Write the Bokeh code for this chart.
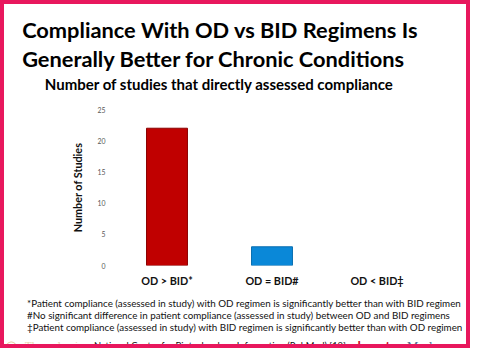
from bokeh.plotting import figure
from bokeh.models import Range1d, FactorRange, Title, FixedTicker, InlineStyleSheet
from bokeh.embed import file_html
from bokeh.resources import INLINE

# ---- data ----
categories = ["OD > BID*", "OD = BID#", "OD < BID\u2021"]
studies = [22, 3, 0]
bar_colors = ["#C00000", "#0A88D8"]
bar_lines = ["#8B0000", "#0A6FB0"]
y_ticks = [0, 5, 10, 15, 20, 25]

title_lines = ["Compliance With OD vs BID Regimens Is",
               "Generally Better for Chronic Conditions"]
subtitle = "Number of studies that directly assessed compliance"
y_label = "Number of Studies"
footnotes = [
    "*Patient compliance (assessed in study) with OD regimen is significantly better than with BID regimen",
    "#No significant difference in patient compliance (assessed in study) between OD and BID regimens",
    "\u2021Patient compliance (assessed in study) with BID regimen is significantly better than with OD regimen",
]
source = "National Center for Biotechnology Information (PubMed).[13]"
# footer pieces: text, left x (reference px), colour, font, size, bold
footer = [("\u25CE", 5, "#E3C48F", "DejaVu Sans", 13, False),
          ("Thrombosis", 25, "#E9D3AE", "DejaVu Serif", 9.8, False),
          (source, 95, "#111111", "Lato", 9.4, False),
          ("heart", 363, "#D0102A", "Lato", 14, True),
          (".org", 400, "#D0102A", "Lato", 6.8, False),
          ("Medscape", 413, "#4E6A8E", "DejaVu Serif", 11.5, False)]

FONT = "Lato"
PINK = "#E8175D"
SX = 478 / 486          # reference -> page scale (horizontal)
FRAME_LEFT = 114        # page x of the plot frame's left edge (4px border + 110)

p = figure(width=470, height=348, output_backend="svg", toolbar_location=None,
           x_range=FactorRange(*categories, range_padding=0),
           y_range=Range1d(0, 25),
           min_border_left=110, min_border_right=45,
           min_border_top=105, min_border_bottom=87)
p.outline_line_color = None
p.grid.visible = False
p.stylesheets = [InlineStyleSheet(css=f":host {{ border: 4px solid {PINK}; }}")]

p.vbar(x=categories[:2], top=studies[:2], width=0.39,
       fill_color=bar_colors, line_color=bar_lines, line_width=1)

# axes
p.yaxis.ticker = FixedTicker(ticks=y_ticks)
p.yaxis.axis_line_color = None
p.yaxis.major_tick_line_color = None
p.yaxis.major_tick_in = 0
p.yaxis.major_tick_out = 0
p.yaxis.minor_tick_line_color = None
p.yaxis.major_label_text_font = FONT
p.yaxis.major_label_text_font_size = "6.9px"
p.yaxis.major_label_text_color = "#595959"
p.yaxis.major_label_standoff = 9
p.yaxis.axis_label = y_label
p.yaxis.axis_label_text_font = FONT
p.yaxis.axis_label_text_font_style = "bold"
p.yaxis.axis_label_text_font_size = "10.8px"
p.yaxis.axis_label_text_color = "#111111"
p.yaxis.axis_label_standoff = 11

p.xaxis.axis_line_color = None
p.xaxis.major_tick_line_color = None
p.xaxis.major_tick_in = 0
p.xaxis.major_tick_out = 0
p.xaxis.major_label_text_font = FONT
p.xaxis.major_label_text_font_style = "bold"
p.xaxis.major_label_text_font_size = "10.8px"
p.xaxis.major_label_text_color = "#111111"
p.xaxis.major_label_standoff = 8


def title(text, X, size, where, bold=False, color="black", standoff=0,
          font=FONT, valign="bottom"):
    p.add_layout(Title(text=text, align="left", offset=X * SX - FRAME_LEFT,
                       text_font=font, text_font_size=f"{size}px",
                       text_font_style="bold" if bold else "normal",
                       text_color=color, standoff=standoff,
                       vertical_align=valign), where)


# above: closest to the frame first
title(" ", 116, 1, "above", standoff=13)          # spacer
title(subtitle, 45, 15, "above", bold=True, standoff=1)
title(title_lines[1], 22, 21.8, "above", bold=True, standoff=1)
title(title_lines[0], 22, 21.8, "above", bold=True, standoff=0)

# below: closest to the frame first
title(" ", 116, 1, "below", standoff=3)           # spacer
for t in footnotes:
    title(t, 27, 9.8, "below", color="#111111", standoff=-2)
title(" ", 116, 1, "below", standoff=11)          # spacer
for txt, X, col, fnt, sz, bold in footer:
    # zero-height rows, all centred on the same line
    title(txt, X, sz, "below", bold=bold, color=col, font=fnt,
          standoff=-(2 + round(1.2 * sz)), valign="middle")
title(" ", 116, 1, "below", standoff=2)           # spacer

open("out.html", "w").write(file_html(p, INLINE))
